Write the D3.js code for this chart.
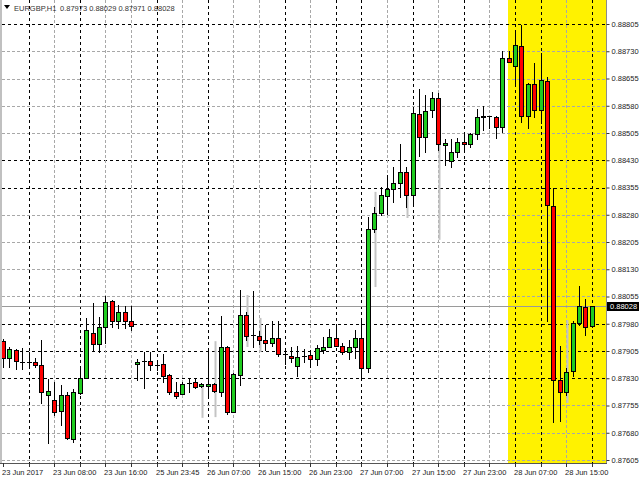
<!DOCTYPE html>
<html>
<head>
<meta charset="utf-8">
<script src="https://cdn.jsdelivr.net/npm/d3@7"></script>
<style>
html,body{margin:0;padding:0;background:#fff;}
svg{display:block;}
text{font-family:"Liberation Sans",Arial,sans-serif;}
</style>
</head>
<body>
<svg id="chart" width="640" height="480"></svg>
<script>
// ---------- DATA ----------
const symbol = "EURGBP,H1";
const timeLabels = ["23 Jun 2017","23 Jun 08:00","23 Jun 16:00","25 Jun 23:45","26 Jun 07:00","26 Jun 15:00",
  "26 Jun 23:00","27 Jun 07:00","27 Jun 15:00","27 Jun 23:00","28 Jun 07:00","28 Jun 15:00"];
const priceTicks = [0.87605,0.87680,0.87755,0.87830,0.87905,0.87980,0.88055,0.88130,0.88205,
  0.88280,0.88355,0.88430,0.88505,0.88580,0.88655,0.88730,0.88805];
const open = [0.87933,0.87887,0.87908,0.87876,0.87876,0.87876,0.87866,0.87785,0.87770,0.87741,
  0.87783,0.87664,0.87789,0.87832,0.87954,0.87924,0.87972,0.88043,0.87988,0.88013,
  0.87987,0.87870,0.87877,0.87878,0.87866,0.87868,0.87839,0.87791,0.87788,0.87816,
  0.87819,0.87810,0.87810,0.87813,0.87793,0.87915,0.87738,0.87839,0.88004,0.87949,
  0.87947,0.87935,0.87926,0.87942,0.87897,0.87892,0.87865,0.87891,0.87893,0.87882,
  0.87908,0.87917,0.87942,0.87919,0.87901,0.87917,0.87942,0.87857,0.88240,0.88284,
  0.88332,0.88350,0.88367,0.88397,0.88334,0.88557,0.88493,0.88567,0.88600,0.88471,
  0.88429,0.88453,0.88480,0.88474,0.88501,0.88548,0.88552,0.88550,0.88521,0.88711,
  0.88690,0.88744,0.88553,0.88639,0.88568,0.88648,0.88304,0.87824,0.87793,0.87851,
  0.87983,0.88025,0.87973];
const high = [0.87938,0.87917,0.87911,0.87913,0.87903,0.87885,0.87935,0.87827,0.87820,0.87811,
  0.87793,0.87800,0.87860,0.87995,0.88036,0.87999,0.88056,0.88045,0.88032,0.88029,
  0.88030,0.87883,0.87903,0.87903,0.87880,0.87897,0.87841,0.87821,0.87819,0.87827,
  0.87832,0.87818,0.87908,0.87817,0.88001,0.87919,0.87844,0.88073,0.88012,0.88070,
  0.87960,0.87977,0.87988,0.87988,0.87908,0.87917,0.87919,0.87910,0.87908,0.87922,
  0.87943,0.87965,0.87979,0.87928,0.87935,0.87963,0.87995,0.88275,0.88301,0.88357,
  0.88389,0.88412,0.88474,0.88412,0.88577,0.88625,0.88610,0.88619,0.88614,0.88488,
  0.88488,0.88490,0.88504,0.88504,0.88570,0.88580,0.88553,0.88552,0.88731,0.88731,
  0.88789,0.88802,0.88642,0.88697,0.88724,0.88658,0.88353,0.87920,0.87858,0.87988,
  0.88085,0.88047,0.88029];
const low = [0.87860,0.87862,0.87855,0.87856,0.87857,0.87860,0.87761,0.87653,0.87728,0.87701,
  0.87663,0.87655,0.87788,0.87830,0.87908,0.87903,0.87926,0.87972,0.87968,0.87968,
  0.87963,0.87825,0.87804,0.87853,0.87853,0.87821,0.87788,0.87775,0.87786,0.87791,
  0.87803,0.87806,0.87776,0.87792,0.87781,0.87732,0.87736,0.87811,0.87935,0.87917,
  0.87925,0.87908,0.87919,0.87892,0.87869,0.87876,0.87837,0.87876,0.87862,0.87866,
  0.87900,0.87916,0.87918,0.87897,0.87883,0.87885,0.87830,0.87848,0.88232,0.88279,
  0.88282,0.88314,0.88330,0.88300,0.88307,0.88442,0.88453,0.88548,0.88458,0.88417,
  0.88411,0.88440,0.88453,0.88467,0.88488,0.88513,0.88518,0.88490,0.88509,0.88700,
  0.88637,0.88536,0.88518,0.88550,0.88532,0.87988,0.87710,0.87713,0.87784,0.87836,
  0.87977,0.87949,0.87971];
const close = [0.87885,0.87910,0.87878,0.87877,0.87876,0.87867,0.87791,0.87796,0.87738,0.87783,
  0.87666,0.87792,0.87831,0.87963,0.87924,0.87972,0.88041,0.87988,0.88013,0.87988,
  0.87974,0.87874,0.87877,0.87866,0.87866,0.87837,0.87793,0.87782,0.87815,0.87816,
  0.87807,0.87813,0.87813,0.87795,0.87915,0.87738,0.87842,0.88004,0.87947,0.87949,
  0.87934,0.87926,0.87942,0.87897,0.87897,0.87885,0.87889,0.87891,0.87884,0.87912,
  0.87917,0.87943,0.87919,0.87901,0.87917,0.87942,0.87857,0.88240,0.88284,0.88334,
  0.88350,0.88367,0.88397,0.88334,0.88559,0.88493,0.88566,0.88600,0.88474,0.88478,
  0.88453,0.88479,0.88476,0.88502,0.88550,0.88553,0.88552,0.88521,0.88711,0.88701,
  0.88747,0.88553,0.88639,0.88568,0.88650,0.88307,0.87825,0.87793,0.87848,0.87981,
  0.88029,0.87972,0.88028];
// faint secondary wicks seen behind some bars: [bar index, high, low]
const ghostIndex = [31,33,38,40,58,63,68,88];
const ghostHigh  = [0.87811,0.87932,0.88059,0.87996,0.88343,0.88334,0.88472,0.87990];
const ghostLow   = [0.87721,0.87723,0.87916,0.87902,0.88081,0.88271,0.88211,0.87762];
const highlightFrom = 79;   // bar index where the yellow session box starts
const lastPrice = 0.88028;

// ---------- LAYOUT / STYLE ----------
const W = 640, H = 480;
const plotRight = 606, axisY = 463;
const N = open.length;
const barStep = 6.4, firstX = 3;
const darkGridY = [0.88805,0.88430,0.88355,0.87980,0.87905,0.87830];
const darkGridBars = [4,12,24,32,44,52,56,64,72,80,84,92];
const upColor = "#1fcc1f", downColor = "#ff0000";

const svg = d3.select("#chart");
const x = d3.scaleLinear().domain([0, N - 1]).range([firstX, firstX + barStep * (N - 1)]);
const y = d3.scaleLinear().domain([priceTicks[0], priceTicks[priceTicks.length - 1]]).range([460, 24]);
const px = i => Math.round(x(i));

// yellow highlight
svg.append("rect").attr("x", px(highlightFrom) - 1).attr("y", 0)
  .attr("width", plotRight - (px(highlightFrom) - 1)).attr("height", axisY)
  .attr("fill", "#fff200");

// horizontal grid
const gridH = svg.append("g");
priceTicks.forEach(v => {
  const dark = darkGridY.some(d => Math.abs(d - v) < 1e-7);
  gridH.append("line").attr("x1", 2).attr("x2", plotRight)
    .attr("y1", Math.round(y(v)) + 0.5).attr("y2", Math.round(y(v)) + 0.5)
    .attr("stroke", dark ? "#000" : "#a8a8a8").attr("stroke-width", 1)
    .attr("stroke-dasharray", dark ? "3,3" : "3,2");
});
// vertical grid every 4 bars
const gridV = svg.append("g");
d3.range(4, N, 4).forEach(i => {
  const dark = darkGridBars.includes(i);
  gridV.append("line").attr("x1", px(i) + 0.5).attr("x2", px(i) + 0.5)
    .attr("y1", 0).attr("y2", axisY)
    .attr("stroke", dark ? "#000" : "#a8a8a8").attr("stroke-width", 1)
    .attr("stroke-dasharray", dark ? "3,3" : "3,2");
});

// last-price line
svg.append("line").attr("x1", 0).attr("x2", plotRight)
  .attr("y1", Math.round(y(lastPrice)) + 0.5).attr("y2", Math.round(y(lastPrice)) + 0.5)
  .attr("stroke", "#9a9a9a").attr("stroke-width", 1);

// ghost wicks
svg.append("g").selectAll("line").data(ghostIndex).join("line")
  .attr("x1", (d) => px(d) + 1.5).attr("x2", (d) => px(d) + 1.5)
  .attr("y1", (d, k) => y(ghostHigh[k])).attr("y2", (d, k) => y(ghostLow[k]))
  .attr("stroke", "#c4c4c4").attr("stroke-width", 2);

// candles
const bars = d3.range(N);
const cg = svg.append("g");
cg.selectAll("line.wick").data(bars).join("line").attr("class", "wick")
  .attr("x1", i => px(i) + 0.5).attr("x2", i => px(i) + 0.5)
  .attr("y1", i => Math.round(y(high[i]))).attr("y2", i => Math.round(y(low[i])) + 1)
  .attr("stroke", "#000").attr("stroke-width", 1);
cg.selectAll("rect.body").data(bars.filter(i => Math.abs(close[i] - open[i]) >= 0.00002)).join("rect").attr("class", "body")
  .attr("x", i => px(i) - 1.5)
  .attr("y", i => Math.round(y(Math.max(open[i], close[i]))) + 0.5)
  .attr("width", 4)
  .attr("height", i => Math.max(1, Math.round(y(Math.min(open[i], close[i]))) - Math.round(y(Math.max(open[i], close[i])))))
  .attr("fill", i => close[i] > open[i] ? upColor : downColor)
  .attr("stroke", "#000").attr("stroke-width", 1);
cg.selectAll("line.doji").data(bars.filter(i => Math.abs(close[i] - open[i]) < 0.00002)).join("line").attr("class", "doji")
  .attr("x1", i => px(i) - 2).attr("x2", i => px(i) + 3)
  .attr("y1", i => Math.round(y(open[i])) + 0.5).attr("y2", i => Math.round(y(open[i])) + 0.5)
  .attr("stroke", "#000").attr("stroke-width", 1);

// borders
svg.append("rect").attr("x", 0).attr("y", 0).attr("width", 2).attr("height", axisY).attr("fill", "#c0c0c0");
svg.append("line").attr("x1", plotRight + 0.5).attr("x2", plotRight + 0.5).attr("y1", 0).attr("y2", axisY)
  .attr("stroke", "#8c8c8c");
svg.append("line").attr("x1", 0).attr("x2", plotRight + 1).attr("y1", axisY + 0.5).attr("y2", axisY + 0.5)
  .attr("stroke", "#555");

// right price axis
const yAxis = d3.axisRight(y).tickValues(priceTicks).tickFormat(d3.format(".5f")).tickSize(3).tickPadding(2);
const ya = svg.append("g").attr("transform", `translate(${plotRight + 0.5},0)`).call(yAxis);
ya.select(".domain").remove();
ya.selectAll("line").attr("stroke", "#333");
ya.selectAll("text").attr("font-size", "7.5px").attr("fill", "#222")
  .attr("font-family", "Liberation Sans, Arial, sans-serif");

// last price box
const ly = Math.round(y(lastPrice));
svg.append("rect").attr("x", 607).attr("y", ly - 4).attr("width", 32).attr("height", 9).attr("fill", "#000");
svg.append("text").attr("x", 610).attr("y", ly + 3).attr("fill", "#fff").attr("font-size", "7.5px")
  .text(d3.format(".5f")(lastPrice));

// bottom time axis
const tickBars = d3.range(0, N, 4);
const xa = svg.append("g").attr("transform", `translate(0,${axisY})`);
xa.selectAll("line").data(tickBars).join("line")
  .attr("x1", i => px(i) + 0.5).attr("x2", i => px(i) + 0.5).attr("y1", 0).attr("y2", 4)
  .attr("stroke", "#333");
xa.selectAll("text").data(timeLabels).join("text")
  .attr("x", (d, k) => px(k * 8) - 1).attr("y", 12)
  .attr("font-size", "7.5px").attr("fill", "#222").text(d => d);

// header
svg.append("path").attr("d", "M4,5 L10,5 L7,9 Z").attr("fill", "#000");
svg.append("text").attr("x", 14).attr("y", 11).attr("font-size", "7.5px").attr("fill", "#333")
  .text(symbol);
svg.append("text").attr("x", 60).attr("y", 11).attr("font-size", "7.5px").attr("fill", "#333")
  .text([open[N-1], high[N-1], low[N-1], close[N-1]].map(d3.format(".5f")).join(" "));
</script>
</body>
</html>
